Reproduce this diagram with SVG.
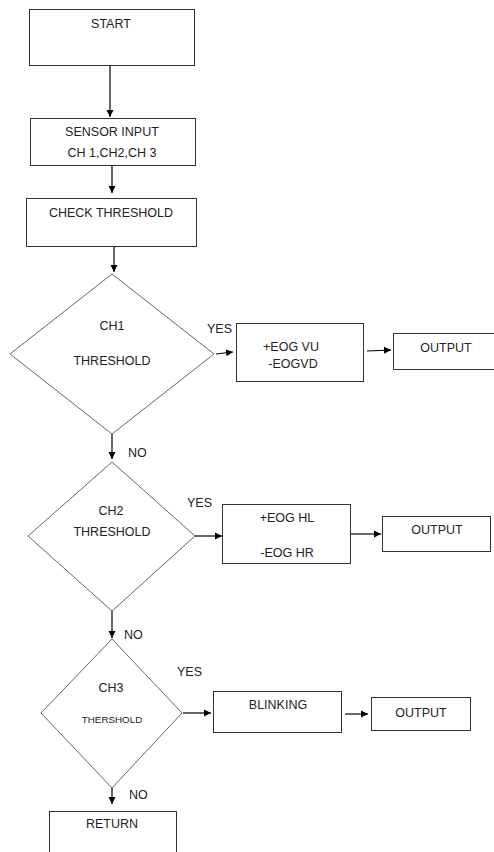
<svg xmlns="http://www.w3.org/2000/svg" width="494" height="852" viewBox="0 0 494 852">
<defs>
<style>
text{font-family:"Liberation Sans",Arial,sans-serif;font-size:12.5px;fill:#222;text-anchor:middle}
.box{fill:#fff;stroke:#333;stroke-width:1}
.dia{fill:#fff;stroke:#666;stroke-width:1}
.con{stroke:#000;stroke-width:1.2;fill:none;marker-end:url(#ah)}
.lbl{text-anchor:start}
.sm{font-size:9.8px}
</style>
<marker id="ah" markerWidth="8" markerHeight="8" refX="7" refY="4" orient="auto" markerUnits="userSpaceOnUse">
<path d="M0,0.5 L7,4 L0,7.5 Z" fill="#000"/>
</marker>
</defs>
<rect width="494" height="852" fill="#fff"/>
<g id="connectors">
<line class="con" x1="110" y1="66" x2="110" y2="117"/>
<line class="con" x1="112" y1="166" x2="112" y2="193"/>
<line class="con" x1="114" y1="247" x2="114" y2="272"/>
<line class="con" x1="216" y1="354" x2="233" y2="352"/>
<line class="con" x1="367" y1="351" x2="391" y2="350"/>
<line class="con" x1="112" y1="434" x2="112" y2="459"/>
<line class="con" x1="195" y1="536" x2="222" y2="536"/>
<line class="con" x1="351" y1="534" x2="381" y2="534"/>
<line class="con" x1="112" y1="611" x2="112" y2="638"/>
<line class="con" x1="183" y1="713" x2="211" y2="713"/>
<line class="con" x1="345" y1="714" x2="368" y2="714"/>
<line class="con" x1="112" y1="788" x2="112" y2="804"/>
<text class="lbl" x="207" y="333">YES</text>
<text class="lbl" x="128" y="457">NO</text>
<text class="lbl" x="187" y="507">YES</text>
<text class="lbl" x="124" y="639">NO</text>
<text class="lbl" x="177" y="676">YES</text>
<text class="lbl" x="129" y="799">NO</text>
</g>
<g id="start">
<rect class="box" x="29.5" y="9.5" width="165" height="56"/>
<text x="111" y="28">START</text>
</g>
<g id="sensor">
<rect class="box" x="30.5" y="118.5" width="165" height="47"/>
<text x="112" y="136">SENSOR INPUT</text>
<text x="112" y="157">CH 1,CH2,CH 3</text>
</g>
<g id="check">
<rect class="box" x="26.5" y="198.5" width="170" height="48"/>
<text x="111" y="217">CHECK THRESHOLD</text>
</g>
<g id="ch1">
<polygon class="dia" points="112,274 214,354 112,434 10,354"/>
<text x="112" y="330">CH1</text>
<text x="112" y="365">THRESHOLD</text>
</g>
<g id="vu">
<rect class="box" x="236.5" y="323.5" width="127" height="58"/>
<text x="291" y="351">+EOG VU</text>
<text x="293" y="368">-EOGVD</text>
</g>
<g id="out1">
<rect class="box" x="393.5" y="333.5" width="101" height="36"/>
<text x="446" y="352">OUTPUT</text>
</g>
<g id="ch2">
<polygon class="dia" points="112,462 195,536 112,611 28,536"/>
<text x="111" y="515">CH2</text>
<text x="112" y="536">THRESHOLD</text>
</g>
<g id="hl">
<rect class="box" x="222.5" y="504.5" width="128" height="59"/>
<text x="287" y="522">+EOG HL</text>
<text x="287" y="557">-EOG HR</text>
</g>
<g id="out2">
<rect class="box" x="382.5" y="516.5" width="108" height="35"/>
<text x="437" y="534">OUTPUT</text>
</g>
<g id="ch3">
<polygon class="dia" points="112,639 182,713 112,788 41,713"/>
<text x="111" y="692">CH3</text>
<text class="sm" x="112" y="723">THERSHOLD</text>
</g>
<g id="blink">
<rect class="box" x="213.5" y="691.5" width="128" height="41"/>
<text x="278" y="709">BLINKING</text>
</g>
<g id="out3">
<rect class="box" x="371.5" y="697.5" width="99" height="33"/>
<text x="421" y="717">OUTPUT</text>
</g>
<g id="return">
<rect class="box" x="49.5" y="811.5" width="127" height="50"/>
<text x="112" y="828">RETURN</text>
</g>
</svg>
